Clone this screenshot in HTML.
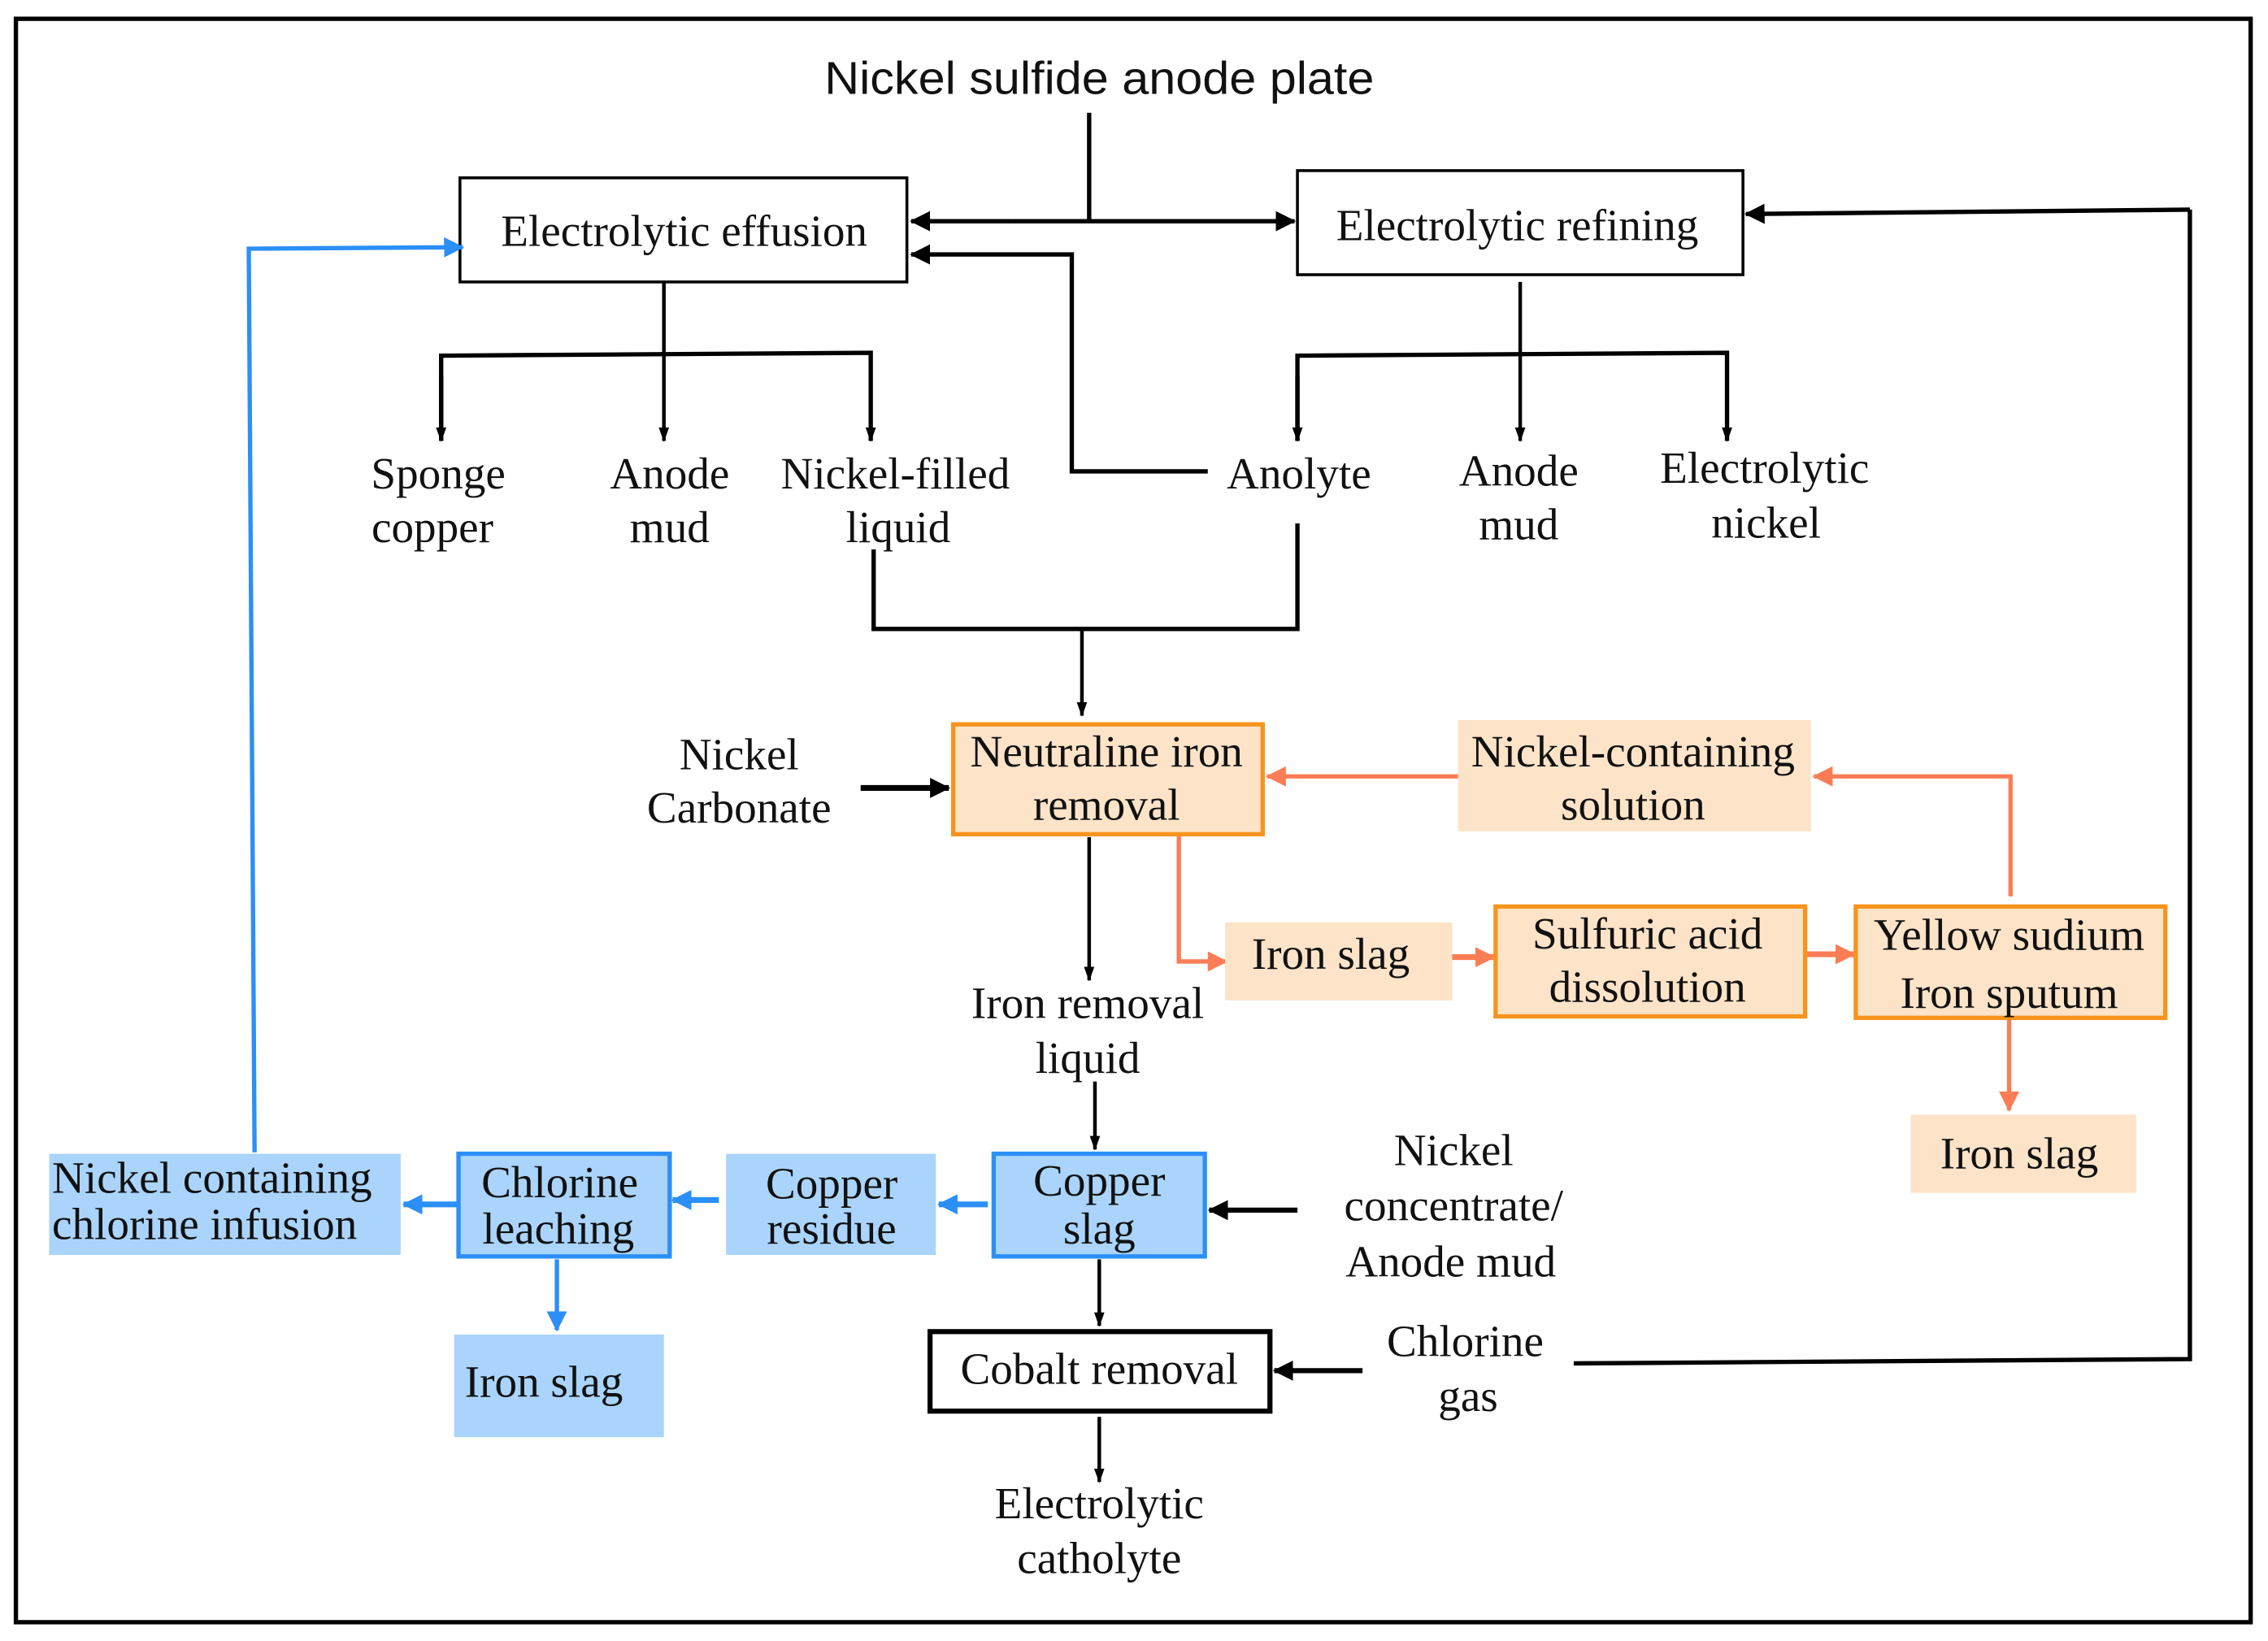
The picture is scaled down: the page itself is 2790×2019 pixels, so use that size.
<!DOCTYPE html>
<html><head><meta charset="utf-8"><style>html,body{margin:0;padding:0;background:#fff}svg{display:block}</style></head>
<body>
<svg width="2790" height="2019" viewBox="0 0 1568 1135" preserveAspectRatio="none" xmlns="http://www.w3.org/2000/svg">
<defs>
<marker id="ab" markerWidth="10" markerHeight="14" refX="13" refY="5" orient="auto" markerUnits="userSpaceOnUse" viewBox="0 0 14 10"><path d="M0,0 L14,5 L0,10 z" fill="#000"/></marker>
<marker id="abig" markerWidth="14" markerHeight="14" refX="13" refY="7" orient="auto" markerUnits="userSpaceOnUse" viewBox="0 0 14 14"><path d="M0,0 L14,7 L0,14 z" fill="#000"/></marker>
<marker id="ao" markerWidth="14" markerHeight="14" refX="13" refY="7" orient="auto" markerUnits="userSpaceOnUse" viewBox="0 0 14 14"><path d="M0,0 L14,7 L0,14 z" fill="#fb7d55"/></marker>
<marker id="abl" markerWidth="14" markerHeight="14" refX="13" refY="7" orient="auto" markerUnits="userSpaceOnUse" viewBox="0 0 14 14"><path d="M0,0 L14,7 L0,14 z" fill="#2b8ff7"/></marker>
</defs>
<rect x="11" y="13" width="1545" height="1109" fill="#fff" stroke="#000" stroke-width="3"/>
<g font-family="'Liberation Serif', serif" font-size="31" fill="#111" text-anchor="middle">
<text x="760" y="65" font-family="'Liberation Sans', sans-serif" font-size="32" textLength="380" lengthAdjust="spacingAndGlyphs">Nickel sulfide anode plate</text>
<g stroke="#000" stroke-width="3" fill="none">
<line x1="753" y1="78" x2="753" y2="153"/>
<line x1="700" y1="153" x2="630" y2="153" marker-end="url(#abig)"/>
<line x1="700" y1="153" x2="895" y2="153" marker-end="url(#abig)"/>
<polyline points="835,326 741,326 741,176 630,176" marker-end="url(#abig)"/>
<polyline points="1514,145 1514,940 1088,943"/>
<line x1="1514" y1="145" x2="1207" y2="148" marker-end="url(#abig)"/>
<line x1="459" y1="195" x2="459" y2="305" stroke-width="2.5" marker-end="url(#ab)"/>
<polyline points="305,305 305,246 602,244 602,305" stroke-width="3" marker-end="url(#ab)"/>
<line x1="305" y1="260" x2="305" y2="305" marker-end="url(#ab)"/>
<line x1="1051" y1="195" x2="1051" y2="305" stroke-width="2.5" marker-end="url(#ab)"/>
<polyline points="897,305 897,246 1194,244 1194,305" marker-end="url(#ab)"/>
<line x1="897" y1="260" x2="897" y2="305" marker-end="url(#ab)"/>
<polyline points="604,380 604,435 897,435 897,362"/>
<line x1="748" y1="435" x2="748" y2="495" stroke-width="2.5" marker-end="url(#ab)"/>
<line x1="595" y1="545" x2="656" y2="545" stroke-width="4" marker-end="url(#abig)"/>
<line x1="753" y1="579" x2="753" y2="678" stroke-width="2.5" marker-end="url(#ab)"/>
<line x1="757" y1="748" x2="757" y2="795" stroke-width="2.5" marker-end="url(#ab)"/>
<line x1="897" y1="837" x2="836" y2="837" stroke-width="3.5" marker-end="url(#abig)"/>
<line x1="760" y1="871" x2="760" y2="917" stroke-width="2.5" marker-end="url(#ab)"/>
<line x1="942" y1="948" x2="881" y2="948" stroke-width="3.5" marker-end="url(#abig)"/>
<line x1="760" y1="980" x2="760" y2="1025" stroke-width="2.5" marker-end="url(#ab)"/>
</g>
<rect x="318" y="123" width="309" height="72" fill="#fff" stroke="#000" stroke-width="2"/>
<text x="473" y="170">Electrolytic effusion</text>
<rect x="897" y="118" width="308" height="72" fill="#fff" stroke="#000" stroke-width="2"/>
<text x="1049" y="166">Electrolytic refining</text>
<text x="303" y="338">Sponge</text><text x="299" y="375">copper</text>
<text x="463" y="338">Anode</text><text x="463" y="375">mud</text>
<text x="619" y="338">Nickel-filled</text><text x="621" y="375">liquid</text>
<text x="898" y="338">Anolyte</text>
<text x="1050" y="336">Anode</text><text x="1050" y="373">mud</text>
<text x="1220" y="334">Electrolytic</text><text x="1221" y="372">nickel</text>
<g stroke="#fb7d55" stroke-width="3" fill="none">
<line x1="1008" y1="537" x2="876" y2="537" marker-end="url(#ao)"/>
<polyline points="1390,620 1390,537 1254,537" marker-end="url(#ao)"/>
<polyline points="815,578 815,665 848,665" marker-end="url(#ao)"/>
<line x1="1004" y1="662" x2="1033" y2="662" stroke-width="4" marker-end="url(#ao)"/>
<line x1="1248" y1="660" x2="1282" y2="660" stroke-width="4" marker-end="url(#ao)"/>
<line x1="1389" y1="704" x2="1389" y2="768" marker-end="url(#ao)"/>
</g>
<rect x="659" y="501" width="214" height="76" fill="#fde3c8" stroke="#f7941d" stroke-width="3"/>
<text x="765" y="530">Neutraline iron</text><text x="765" y="567">removal</text>
<text x="511" y="532">Nickel</text><text x="511" y="569">Carbonate</text>
<rect x="1008" y="498" width="244" height="77" fill="#fde3c8"/>
<text x="1129" y="530">Nickel-containing</text><text x="1129" y="567">solution</text>
<rect x="847" y="638" width="157" height="54" fill="#fde3c8"/>
<text x="920" y="670">Iron slag</text>
<rect x="1034" y="627" width="214" height="76" fill="#fde3c8" stroke="#f7941d" stroke-width="3"/>
<text x="1139" y="656">Sulfuric acid</text><text x="1139" y="693">dissolution</text>
<rect x="1283" y="627" width="214" height="77" fill="#fde3c8" stroke="#f7941d" stroke-width="3"/>
<text x="1389" y="657">Yellow sudium</text><text x="1389" y="697">Iron sputum</text>
<rect x="1321" y="771" width="156" height="54" fill="#fde3c8"/>
<text x="1396" y="808">Iron slag</text>
<text x="752" y="704">Iron removal</text><text x="752" y="742">liquid</text>
<g stroke="#2b8ff7" stroke-width="3" fill="none">
<polyline points="176,797 172,172 320,171" marker-end="url(#abl)"/>
<line x1="683" y1="833" x2="649" y2="833" stroke-width="4" marker-end="url(#abl)"/>
<line x1="497" y1="830" x2="465" y2="830" stroke-width="4" marker-end="url(#abl)"/>
<line x1="316" y1="833" x2="279" y2="833" stroke-width="4" marker-end="url(#abl)"/>
<line x1="385" y1="871" x2="385" y2="920" marker-end="url(#abl)"/>
</g>
<rect x="687" y="798" width="146" height="71" fill="#aad4fc" stroke="#2b8ff7" stroke-width="3"/>
<text x="760" y="827">Copper</text><text x="760" y="860">slag</text>
<rect x="502" y="798" width="145" height="70" fill="#aad4fc"/>
<text x="575" y="829">Copper</text><text x="575" y="860">residue</text>
<rect x="317" y="798" width="146" height="71" fill="#aad4fc" stroke="#2b8ff7" stroke-width="3"/>
<text x="387" y="828">Chlorine</text><text x="386" y="860">leaching</text>
<rect x="34" y="798" width="243" height="70" fill="#aad4fc"/>
<text x="36" y="825" text-anchor="start">Nickel containing</text><text x="36" y="857" text-anchor="start">chlorine infusion</text>
<rect x="314" y="923" width="145" height="71" fill="#aad4fc"/>
<text x="376" y="966">Iron slag</text>
<text x="1005" y="806">Nickel</text><text x="1005" y="844">concentrate/</text><text x="1003" y="883">Anode mud</text>
<rect x="643" y="921" width="235" height="55" fill="#fff" stroke="#000" stroke-width="3.5"/>
<text x="760" y="957">Cobalt removal</text>
<text x="1013" y="938">Chlorine</text><text x="1015" y="976">gas</text>
<text x="760" y="1050">Electrolytic</text><text x="760" y="1088">catholyte</text>
</g>
</svg>
</body></html>
